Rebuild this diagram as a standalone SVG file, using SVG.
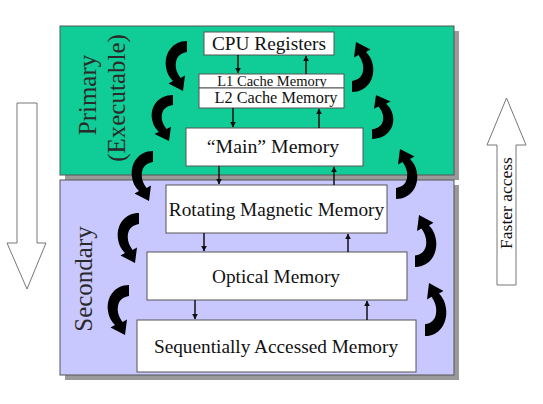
<svg xmlns="http://www.w3.org/2000/svg" width="543" height="404" viewBox="0 0 543 404">
<style>
.shadow{fill:#9a9a9a}
.panel{stroke:#555;stroke-width:1}
.box{fill:#fff;stroke:#555;stroke-width:1}
.t{font-family:"Liberation Serif","Times New Roman",serif;fill:#111;text-anchor:middle}
.side{font-family:"Liberation Serif","Times New Roman",serif;fill:#2a2a2a;font-size:25px;text-anchor:middle}
.conn{stroke:#111;stroke-width:1.5;fill:none}
.big{fill:#fff;stroke:#777;stroke-width:1}
.curl{fill:#000}
</style>
<defs>
<marker id="ah" viewBox="0 0 10 10" refX="9" refY="5" markerWidth="4" markerHeight="4" orient="auto" markerUnits="strokeWidth">
<path d="M0 0 L10 5 L0 10 Z" fill="#111"/>
</marker>
<path id="curl" d="M 22 0 C 7 0, -1 13, 1 26 C 2 33, 5 37, 8 40 L 3.5 42.5 L 18 50 L 20 34.5 L 15.5 37 C 12 32, 10 27, 11 21 C 12 15, 16 12, 22 11 Z"/>
</defs>

<g id="background">
<rect class="shadow" x="65" y="31" width="394" height="149"/>
<rect class="panel" id="primary-panel" x="60" y="26" width="394" height="149" fill="#10cc96"/>
<rect class="shadow" x="65" y="185" width="394" height="195"/>
<rect class="panel" id="secondary-panel" x="60" y="180" width="394" height="195" fill="#c8c8ff"/>
</g>

<g id="label-primary">
<text class="side" font-size="27" transform="translate(96,95) rotate(-90)">Primary</text>
<text class="side" transform="translate(125,98) rotate(-90)">(Executable)</text>
</g>
<g id="label-secondary">
<text class="side" transform="translate(92,279) rotate(-90)">Secondary</text>
</g>

<g id="slower-arrow">
<path class="big" d="M17 103 L37 103 L37 243 L46 243 L27 289 L7 243 L17 243 Z"/>
</g>
<g id="faster-arrow">
<path class="big" d="M497 285 L516 285 L516 145 L526 145 L506.5 98 L487 145 L497 145 Z"/>
<text class="t" font-size="17.5" transform="translate(512,203) rotate(-90)">Faster access</text>
</g>

<g id="cpu-registers">
<rect class="box" x="204" y="32" width="130" height="23"/>
<text class="t" x="269" y="50" font-size="19.3">CPU Registers</text>
</g>
<g id="l1-cache">
<rect class="box" x="199" y="74" width="145" height="14"/>
<text class="t" x="272" y="86" font-size="14.5">L1 Cache Memory</text>
</g>
<g id="l2-cache">
<rect class="box" x="199" y="88" width="145" height="20"/>
<text class="t" x="276" y="103" font-size="16.3">L2 Cache Memory</text>
</g>
<g id="main-memory">
<rect class="box" x="186" y="128" width="177" height="38"/>
<text class="t" x="273" y="153" font-size="19.8">“Main” Memory</text>
</g>
<g id="rotating-magnetic">
<rect class="box" x="166" y="185" width="221" height="48"/>
<text class="t" x="276.5" y="216" font-size="19.3">Rotating Magnetic Memory</text>
</g>
<g id="optical">
<rect class="box" x="147" y="252" width="260" height="48"/>
<text class="t" x="276" y="283" font-size="19.3">Optical Memory</text>
</g>
<g id="sequential">
<rect class="box" x="137" y="320" width="279" height="52"/>
<text class="t" x="276" y="353" font-size="19.3">Sequentially Accessed Memory</text>
</g>

<g id="connectors">
<line class="conn" x1="238" y1="55" x2="238" y2="73" marker-end="url(#ah)"/>
<line class="conn" x1="306" y1="74" x2="306" y2="56" marker-end="url(#ah)"/>
<line class="conn" x1="233" y1="108" x2="233" y2="127" marker-end="url(#ah)"/>
<line class="conn" x1="319" y1="128" x2="319" y2="109" marker-end="url(#ah)"/>
<line class="conn" x1="219" y1="166" x2="219" y2="184" marker-end="url(#ah)"/>
<line class="conn" x1="334" y1="185" x2="334" y2="167" marker-end="url(#ah)"/>
<line class="conn" x1="204" y1="233" x2="204" y2="251" marker-end="url(#ah)"/>
<line class="conn" x1="348" y1="252" x2="348" y2="234" marker-end="url(#ah)"/>
<line class="conn" x1="195" y1="300" x2="195" y2="319" marker-end="url(#ah)"/>
<line class="conn" x1="367" y1="320" x2="367" y2="301" marker-end="url(#ah)"/>

<use href="#curl" class="curl" transform="translate(165,41)"/>
<use href="#curl" class="curl" transform="translate(151,95) scale(1,0.92)"/>
<use href="#curl" class="curl" transform="translate(131,151)"/>
<use href="#curl" class="curl" transform="translate(117,213)"/>
<use href="#curl" class="curl" transform="translate(107,285)"/>

<use href="#curl" class="curl" transform="translate(374,92) rotate(180)"/>
<use href="#curl" class="curl" transform="translate(394,139) rotate(180) scale(1,0.88)"/>
<use href="#curl" class="curl" transform="translate(418,199) rotate(180)"/>
<use href="#curl" class="curl" transform="translate(437,267) rotate(180) scale(1,1.04)"/>
<use href="#curl" class="curl" transform="translate(447,336) rotate(180) scale(1,1.06)"/>
</g>
</svg>
